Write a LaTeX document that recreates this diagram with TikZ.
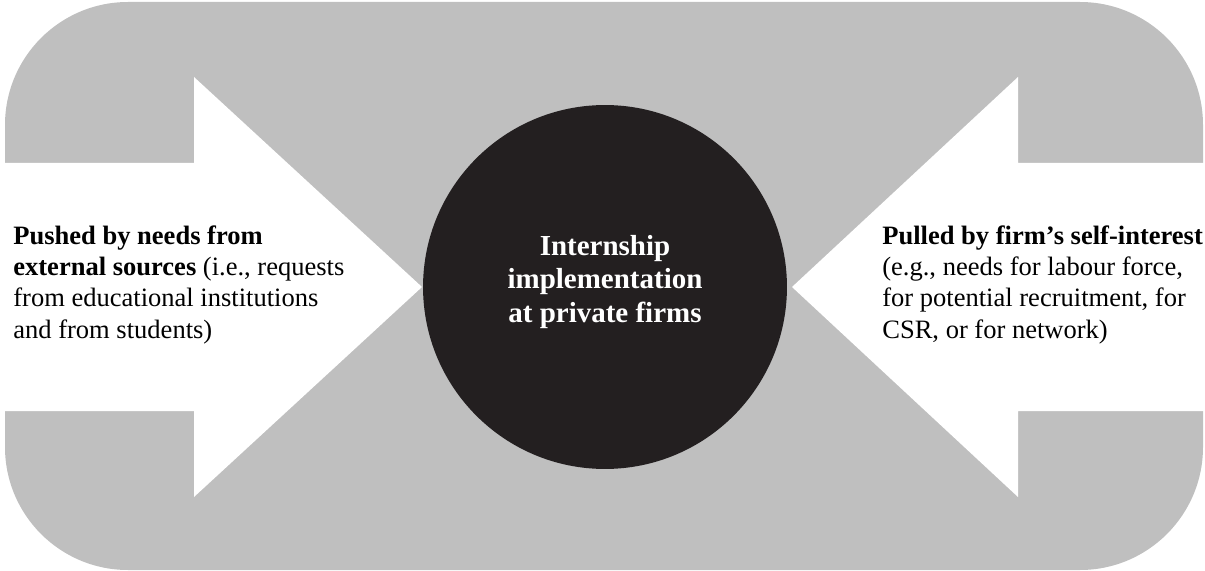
\documentclass[tikz,border=0pt]{standalone}
\usepackage{fontspec}
\setmainfont{Liberation Serif}
\definecolor{panelgray}{HTML}{BFBFBF}
\definecolor{hubblack}{HTML}{231F20}

\begin{document}
\begin{tikzpicture}[x=0.02cm, y=-0.02cm,
  sidetext/.style={align=left, inner sep=0pt, anchor=north west,
    font=\fontsize{15.1}{17.9}\selectfont},
  hubtext/.style={align=center, inner sep=0pt, text=white,
    font=\fontsize{16.5}{19.1}\selectfont\bfseries}]

\useasboundingbox (0,0) rectangle (1205,571);

% background panel
\fill[panelgray, rounded corners=70] (5,2) rectangle (1203,570);

% push arrow (left) and pull arrow (right)
\fill[white] (0,163) -- (194,163) -- (194,77) -- (422,287) -- (194,497) -- (194,411) -- (0,411) -- cycle;
\fill[white] (1205,163) -- (1018,163) -- (1018,77) -- (792,287) -- (1018,497) -- (1018,411) -- (1205,411) -- cycle;

% firm in the middle
\node[circle, fill=hubblack, inner sep=0pt, minimum size=7.28cm] (hub) at (605,287) {};
\node[hubtext] (hublabel) at (605,282) {Internship\\implementation\\at private firms};

\node[sidetext] (push) at (13,225) {\textbf{Pushed by needs from}\\\textbf{external sources} (i.e., requests\\from educational institutions\\and from students)};

\node[sidetext] (pull) at (882,225) {\textbf{Pulled by firm’s self-interest}\\(e.g., needs for labour force,\\for potential recruitment, for\\CSR, or for network)};
\end{tikzpicture}
\end{document}
